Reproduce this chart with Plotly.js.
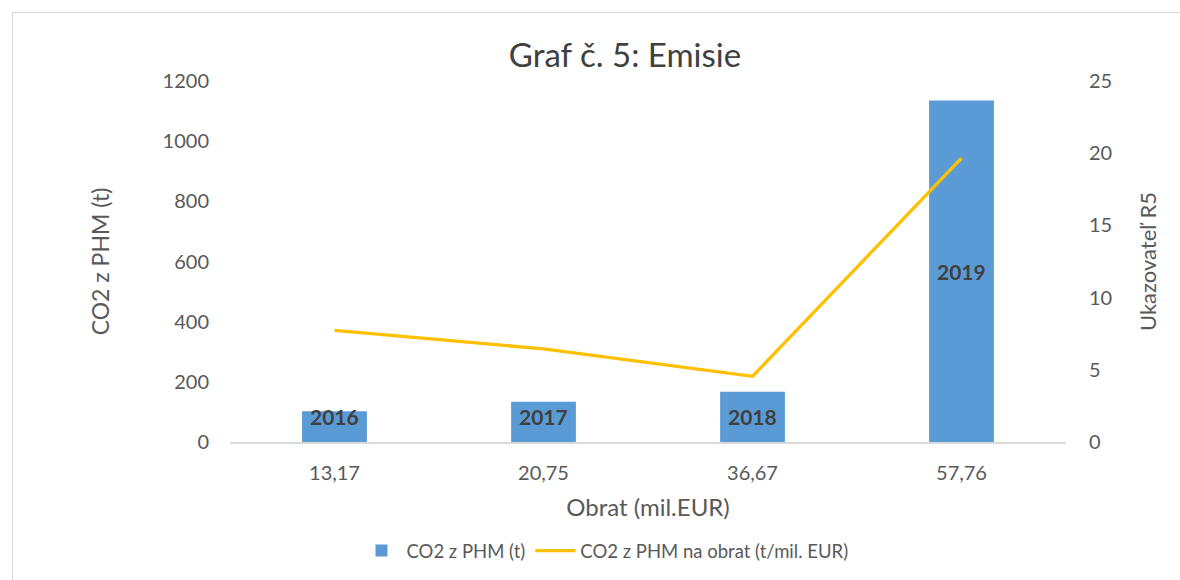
<!DOCTYPE html>
<html>
<head>
<meta charset="utf-8">
<script src="https://cdn.plot.ly/plotly-3.0.1.min.js"></script>
<style>
  html, body { margin: 0; padding: 0; background: #ffffff; }
  #wrap { position: relative; width: 1180px; height: 580px; overflow: hidden; }
  #frame { position: absolute; left: 12px; top: 12px; width: 1180px; height: 580px;
           border-left: 1px solid #d9d9d9; border-top: 1px solid #d9d9d9; box-sizing: border-box; }
  #chart { position: absolute; left: 0; top: 0; width: 1180px; height: 580px; }
</style>
</head>
<body>
<div id="wrap">
  <div id="frame"></div>
  <div id="chart"></div>
</div>
<script>
// Data
const categories = ["13,17", "20,75", "36,67", "57,76"];
const years = ["2016", "2017", "2018", "2019"];
const co2Values = [102, 134, 167, 1135];          // CO2 z PHM (t)
const ratioValues = [7.73, 6.45, 4.55, 19.66];     // CO2 z PHM na obrat (t/mil. EUR)

const FONT = "Lato, 'Open Sans', sans-serif";
const TXT = "#595959";

const barTrace = {
  type: "bar",
  name: "CO2 z PHM (t)",
  x: categories,
  y: co2Values,
  marker: { color: "#5B9BD5", line: { width: 0 } },
  hoverinfo: "x+y"
};

const lineTrace = {
  type: "scatter",
  mode: "lines",
  name: "CO2 z PHM na obrat (t/mil. EUR)",
  x: categories,
  y: ratioValues,
  yaxis: "y2",
  line: { color: "#FFC000", width: 3.3 }
};

// Data labels (year) centred in each bar, kept above the axis for short bars
const LABEL_MIN = 84;
const annotations = years.map((yr, i) => ({
  x: categories[i],
  y: Math.max(co2Values[i] / 2, LABEL_MIN),
  xref: "x", yref: "y",
  text: "<b>" + yr + "</b>",
  showarrow: false,
  xanchor: "center", yanchor: "middle",
  font: { family: FONT, size: 21, color: "#404040" }
}));

const layout = {
  width: 1180,
  height: 580,
  paper_bgcolor: "rgba(0,0,0,0)",
  plot_bgcolor: "rgba(0,0,0,0)",
  margin: { l: 230, r: 114, t: 81, b: 138, pad: 0 },
  font: { family: FONT, color: TXT },
  title: {
    text: "Graf č. 5: Emisie",
    font: { family: FONT, size: 33, color: "#404040" },
    x: 625 / 1180, xref: "container", xanchor: "center",
    y: 1 - 55 / 580, yref: "container", yanchor: "middle"
  },
  bargap: 0.69,
  showlegend: true,
  legend: {
    orientation: "h",
    xref: "container", yref: "container",
    x: 605 / 1180, xanchor: "center",
    y: 1 - 551 / 580, yanchor: "middle",
    font: { family: FONT, size: 18.5, color: TXT },
    itemwidth: 40,
    traceorder: "normal"
  },
  xaxis: {
    type: "category",
    showgrid: false,
    showline: true,
    linecolor: "#D9D9D9",
    linewidth: 2,
    ticks: "",
    ticklabelstandoff: 12,
    tickfont: { family: FONT, size: 20, color: TXT },
    title: { text: "Obrat (mil.EUR)", font: { family: FONT, size: 24, color: TXT }, standoff: 16 },
    automargin: false,
    fixedrange: true
  },
  yaxis: {
    range: [0, 1200],
    dtick: 200,
    showgrid: false,
    zeroline: false,
    showline: false,
    ticks: "",
    ticklabelstandoff: 20,
    tickfont: { family: FONT, size: 20, color: TXT },
    title: { text: "CO2 z PHM (t)", font: { family: FONT, size: 23, color: TXT }, standoff: 46 },
    automargin: false,
    fixedrange: true
  },
  yaxis2: {
    overlaying: "y",
    side: "right",
    range: [0, 25],
    dtick: 5,
    showgrid: false,
    zeroline: false,
    showline: false,
    ticks: "",
    ticklabelstandoff: 22,
    tickfont: { family: FONT, size: 20, color: TXT },
    title: { text: "Ukazovateľ R5", font: { family: FONT, size: 22, color: TXT }, standoff: 29 },
    automargin: false,
    fixedrange: true
  },
  annotations: annotations
};

Plotly.newPlot("chart", [barTrace, lineTrace], layout, { displayModeBar: false, staticPlot: true });
</script>
</body>
</html>
